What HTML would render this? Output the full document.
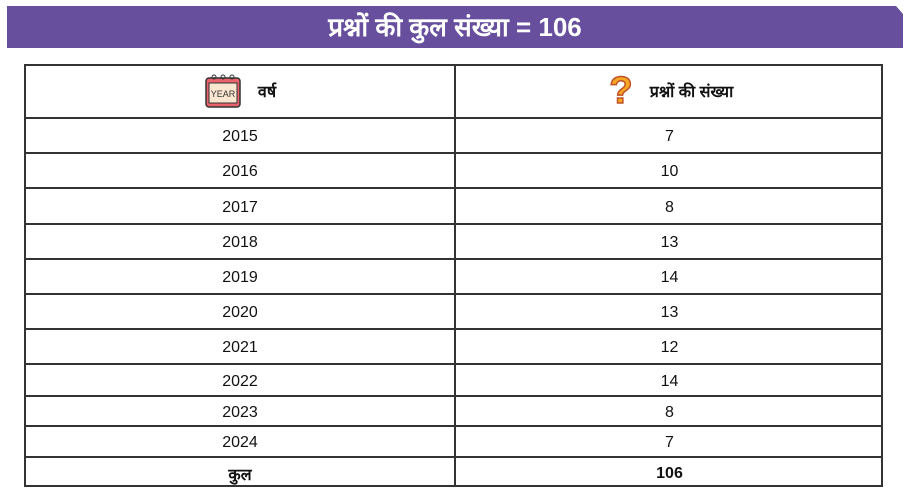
<!DOCTYPE html>
<html><head><meta charset="utf-8">
<style>
body{margin:0;width:906px;height:494px;background:#fff;position:relative;overflow:hidden;font-family:"Liberation Sans","DejaVu Sans",sans-serif;}
#banner{position:absolute;left:7px;top:6px;width:896px;height:42px;background:#674f9e;clip-path:polygon(0 0,889px 0,896px 8px,896px 42px,0 42px);color:#fff;font-weight:bold;font-size:26px;text-align:center;line-height:42px;}
#tbl{position:absolute;left:24px;top:64px;width:859px;height:423px;border:2px solid #333;box-sizing:border-box;}
.row{position:absolute;left:0;width:100%;border-bottom:2px solid #333;box-sizing:border-box;}
.cell{position:absolute;top:0;height:100%;display:flex;align-items:center;justify-content:center;font-size:16px;color:#111;padding-top:4px;box-sizing:border-box;}
.c1{left:0;width:430px;border-right:2px solid #333;}
.c2{left:430px;width:427px;}
</style></head><body>
<div id="banner">प्रश्नों की कुल संख्या = 106</div>
<div id="tbl"></div>
<script>
const years=["2015","2016","2017","2018","2019","2020","2021","2022","2023","2024"];
const counts=[7,10,8,13,14,13,12,14,8,7];
const bounds=[0,53,88,123,159,194,229,264,299,331,361,392,421];
const tbl=document.getElementById('tbl');
function mkRow(i,a,b,bold,name){
  const r=document.createElement('div');r.className='row';
  
  
  r.style.top=(bounds[i]-1)+'px';r.style.height=(bounds[i+1]-bounds[i]+1)+'px';
  if(i==bounds.length-2)r.style.borderBottom='none';
  const c1=document.createElement('div');c1.className='cell c1';c1.innerHTML=a;
  
  
  const c2=document.createElement('div');c2.className='cell c2';c2.innerHTML=b;
  
  
  if(bold){c1.style.fontWeight='bold';c2.style.fontWeight='bold';}
  if(i==0){c1.style.paddingTop='0';c2.style.paddingTop='0';}
  r.appendChild(c1);r.appendChild(c2);tbl.appendChild(r);
}
const cal='<svg width="40" height="36" viewBox="0 0 40 36" style="margin-right:14px"><rect x="2" y="5" width="34" height="29" rx="3" fill="#e8636b" stroke="#333" stroke-width="1.5"/><rect x="5" y="10" width="28" height="20" fill="#fbe6d0" stroke="#333" stroke-width="1"/><text x="19" y="24" font-size="9" text-anchor="middle" font-family="Liberation Sans" fill="#333">YEAR</text><circle cx="10" cy="4" r="2" fill="none" stroke="#333"/><circle cx="19" cy="4" r="2" fill="none" stroke="#333"/><circle cx="28" cy="4" r="2" fill="none" stroke="#333"/></svg>';
const q='<svg width="30" height="40" viewBox="0 0 30 40" style="margin-right:14px"><text x="15" y="32" font-size="38" font-weight="bold" text-anchor="middle" font-family="Liberation Sans" fill="#f5a623" stroke="#c0522a" stroke-width="1.5">?</text></svg>';
mkRow(0,cal+'<b>वर्ष</b>',q+'<b>प्रश्नों की संख्या</b>',false,'header-row');
for(let i=0;i<years.length;i++)mkRow(i+1,years[i],String(counts[i]),false,'row-'+years[i]);
mkRow(11,'कुल',String(counts.reduce((a,b)=>a+b,0)),true,'total-row');
</script>
</body></html>
